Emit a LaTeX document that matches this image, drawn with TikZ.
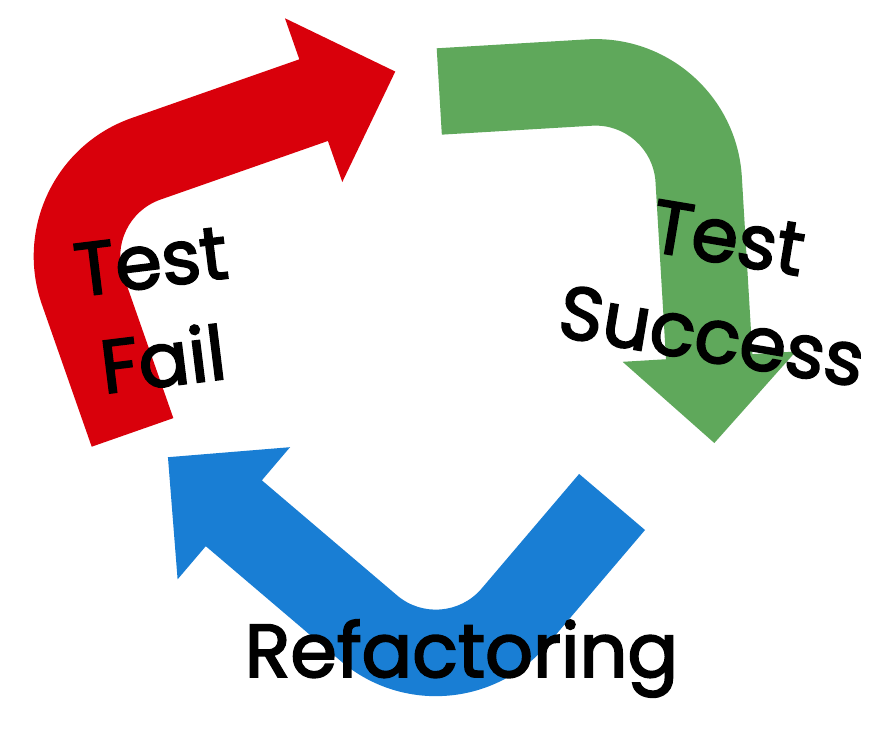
\documentclass[tikz,border=0pt]{standalone}
\usepackage{fontspec}
\setmainfont{Poppins}[FakeBold=2.5]
\definecolor{arrred}{HTML}{D9000B}
\definecolor{arrgreen}{HTML}{5FA85B}
\definecolor{arrblue}{HTML}{197ED4}
\tikzset{
  bentarrow/.pic={
    \fill[pic actions] (0,0) -- (86.5,0) -- (86.5,150.5)
      .. controls (86.5,183.6) and (113.4,210.5) .. (146.5,210.5)
      -- (324,210.5) -- (324,167) -- (410.5,253.75) -- (324,340.5) -- (324,297)
      -- (146.5,297) .. controls (65.6,297) and (0,231.4) .. (0,150.5) -- cycle;
  },
  labeltext/.style={font=\fontsize{64}{85}\selectfont, align=center, text=black, inner sep=0pt}
}
\begin{document}
\begin{tikzpicture}[x=0.03cm, y=0.03cm]
\useasboundingbox[fill=white] (0,0) rectangle (894,-729);
\pic[fill=arrred, rotate=19.3] at (91.7,-446.7) {bentarrow};
\pic[fill=arrgreen, rotate=-86.6] at (436.7,-48.3) {bentarrow};
\pic[fill=arrblue, rotate=139.6] at (645,-530) {bentarrow};
\node[labeltext, rotate=7] (failtxt) at (157,-311) {Test\\Fail};
\node[labeltext, rotate=-9.5] (succtxt) at (720,-287) {Test\\Success};
\node[labeltext, anchor=base] (reftxt) at (461.5,-677) {Refactoring};
\end{tikzpicture}
\end{document}
